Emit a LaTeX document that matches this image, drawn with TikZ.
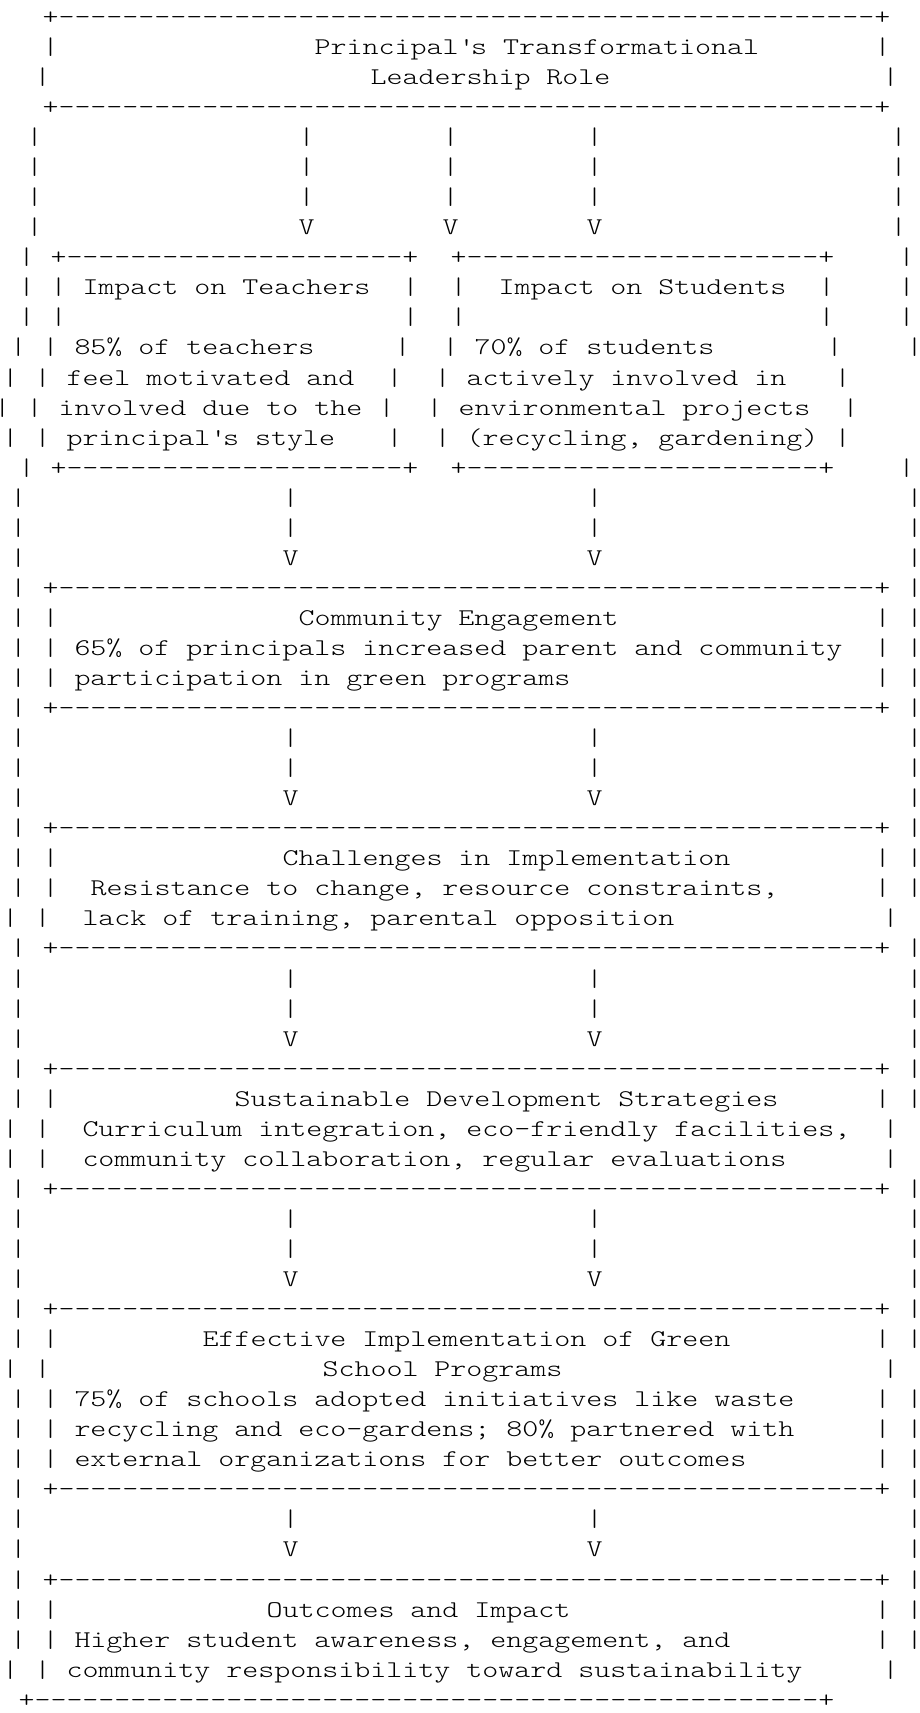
\documentclass[tikz,border=0pt]{standalone}
\usepackage{fontspec}
\IfFontExistsTF{lmmonolt10-regular.otf}
  {\newfontfamily\asc{lmmonolt10-regular.otf}[FakeStretch=1.2698,Ligatures=TeXOff]\def\ascsize{12}}
  {\newfontfamily\asc{Liberation Mono}[Ligatures=TeXOff]\def\ascsize{13.333}}
\newcommand\dashes[1]{\foreach\i in {1,...,#1}{-{}}}
\newcommand\q{\textquotesingle}
\tikzset{asc/.style={anchor=base west,inner sep=0pt,outer sep=0pt,
  font=\asc\fontsize{\ascsize}{14}\selectfont}}
% row index, row length (centred), list of column/text
\newcommand\artrow[3]{%
  \pgfmathsetmacro\yb{24.4+30.05*(#1-1)}%
  \pgfmathsetmacro\xz{466.5-(#2-1)*8}%
  \foreach \c/\t in {#3}{\node[asc] (r#1c\c) at ({\xz+16*\c-8},\yb) {\t};}%
}
\newcommand\boxedge[1]{\artrow{#1}{57}{0/|,2/{+\dashes{51}+},56/|}}
\newcommand\pipes[1]{\artrow{#1}{57}{0/|,17/|,36/|,56/|}}
\newcommand\vees[1]{\artrow{#1}{57}{0/|,17/V,36/V,56/|}}
\begin{document}
\begin{tikzpicture}[x=0.5pt,y=-0.5pt]
\fill[white] (0,0) rectangle (920,1713);
\useasboundingbox (0,0) rectangle (920,1713);
% title box
\artrow{1}{53}{0/{+\dashes{51}+}}
\artrow{2}{53}{0/|,17/{Principal\q s Transformational},52/|}
\artrow{3}{54}{0/|,21/{Leadership Role},53/|}
\artrow{4}{53}{0/{+\dashes{51}+}}
\artrow{5}{55}{0/|,17/|,26/|,35/|,54/|}
\artrow{6}{55}{0/|,17/|,26/|,35/|,54/|}
\artrow{7}{55}{0/|,17/|,26/|,35/|,54/|}
\artrow{8}{55}{0/|,17/V,26/V,35/V,54/|}
% teachers / students
\artrow{9}{56}{0/|,2/{+\dashes{21}+},27/{+\dashes{22}+},55/|}
\artrow{10}{56}{0/|,2/|,4/{Impact on Teachers},24/|,27/|,30/{Impact on Students},50/|,55/|}
\artrow{11}{56}{0/|,2/|,24/|,27/|,50/|,55/|}
\artrow{12}{57}{0/|,2/|,4/{85\% of teachers},24/|,27/|,29/{70\% of students},51/|,56/|}
\artrow{13}{58}{0/|,2/|,4/{feel motivated and},24/|,27/|,29/{actively involved in},52/|}
\artrow{14}{59}{0/|,2/|,4/{involved due to the},24/|,27/|,29/{environmental projects},53/|}
\artrow{15}{58}{0/|,2/|,4/{principal\q s style},24/|,27/|,29/{(recycling, gardening)},52/|}
\artrow{16}{56}{0/|,2/{+\dashes{21}+},27/{+\dashes{22}+},55/|}
\pipes{17}\pipes{18}\vees{19}
% community
\boxedge{20}
\artrow{21}{57}{0/|,2/|,18/{Community Engagement},54/|,56/|}
\artrow{22}{57}{0/|,2/|,4/{65\% of principals increased parent and community},54/|,56/|}
\artrow{23}{57}{0/|,2/|,4/{participation in green programs},54/|,56/|}
\boxedge{24}
\pipes{25}\pipes{26}\vees{27}
% challenges
\boxedge{28}
\artrow{29}{57}{0/|,2/|,17/{Challenges in Implementation},54/|,56/|}
\artrow{30}{57}{0/|,2/|,5/{Resistance to change, resource constraints,},54/|,56/|}
\artrow{31}{58}{0/|,2/|,5/{lack of training, parental opposition},55/|}
\boxedge{32}
\pipes{33}\pipes{34}\vees{35}
% strategies
\boxedge{36}
\artrow{37}{57}{0/|,2/|,14/{Sustainable Development Strategies},54/|,56/|}
\artrow{38}{58}{0/|,2/|,5/{Curriculum integration, eco-friendly facilities,},55/|}
\artrow{39}{58}{0/|,2/|,5/{community collaboration, regular evaluations},55/|}
\boxedge{40}
\pipes{41}\pipes{42}\vees{43}
% effective implementation
\boxedge{44}
\artrow{45}{57}{0/|,2/|,12/{Effective Implementation of Green},54/|,56/|}
\artrow{46}{58}{0/|,2/|,20/{School Programs},55/|}
\artrow{47}{57}{0/|,2/|,4/{75\% of schools adopted initiatives like waste},54/|,56/|}
\artrow{48}{57}{0/|,2/|,4/{recycling and eco-gardens; 80\% partnered with},54/|,56/|}
\artrow{49}{57}{0/|,2/|,4/{external organizations for better outcomes},54/|,56/|}
\boxedge{50}
\pipes{51}\vees{52}
% outcomes
\boxedge{53}
\artrow{54}{57}{0/|,2/|,16/{Outcomes and Impact},54/|,56/|}
\artrow{55}{57}{0/|,2/|,4/{Higher student awareness, engagement, and},54/|,56/|}
\artrow{56}{58}{0/|,2/|,4/{community responsibility toward sustainability},55/|}
\artrow{57}{56}{0/{+\dashes{49}+}}
\end{tikzpicture}
\end{document}
